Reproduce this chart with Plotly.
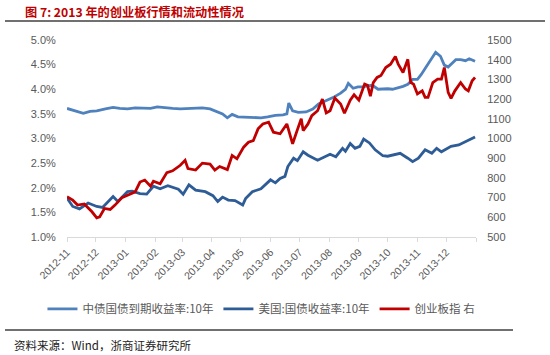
import plotly.graph_objects as go

# ---------------- data ----------------
cn_dates = ["2012-11-01","2012-11-09","2012-11-18","2012-11-25","2012-12-02","2012-12-11","2012-12-19","2012-12-26",
            "2013-01-03","2013-01-11","2013-01-18","2013-01-27","2013-02-03","2013-02-11","2013-02-19","2013-02-27",
            "2013-03-06","2013-03-15","2013-03-22","2013-03-30","2013-04-07","2013-04-12","2013-04-17","2013-04-22",
            "2013-04-28","2013-05-06","2013-05-13","2013-05-22","2013-05-29","2013-06-06","2013-06-14","2013-06-18",
            "2013-06-20","2013-06-24","2013-06-30","2013-07-08","2013-07-15","2013-07-21","2013-07-28","2013-08-05",
            "2013-08-13","2013-08-18","2013-08-21","2013-08-26","2013-08-31","2013-09-05","2013-09-10","2013-09-15",
            "2013-09-21","2013-09-26","2013-10-01","2013-10-06","2013-10-12","2013-10-17","2013-10-22","2013-10-27",
            "2013-11-01","2013-11-05","2013-11-10","2013-11-15","2013-11-20","2013-11-25","2013-11-29","2013-12-03",
            "2013-12-07","2013-12-11","2013-12-16","2013-12-21","2013-12-25","2013-12-29","2013-12-31"]
cn_yield = [3.61,3.57,3.51,3.55,3.56,3.60,3.63,3.61,
            3.60,3.62,3.62,3.61,3.64,3.62,3.61,3.60,
            3.61,3.62,3.62,3.60,3.54,3.50,3.42,3.49,
            3.44,3.43,3.43,3.42,3.44,3.47,3.48,3.50,
            3.72,3.56,3.53,3.54,3.60,3.70,3.76,3.83,
            3.92,4.00,4.12,4.02,4.05,4.05,4.07,4.08,
            4.00,4.01,4.01,4.00,4.03,4.06,4.10,4.20,
            4.20,4.30,4.45,4.60,4.75,4.67,4.49,4.45,
            4.53,4.60,4.60,4.58,4.62,4.58,4.57]

us_dates = ["2012-11-01","2012-11-07","2012-11-14","2012-11-23","2012-12-02","2012-12-08","2012-12-19","2012-12-24",
            "2013-01-03","2013-01-08","2013-01-16","2013-01-23","2013-01-30","2013-02-06","2013-02-14","2013-02-25",
            "2013-03-02","2013-03-08","2013-03-15","2013-03-25","2013-04-02","2013-04-07","2013-04-12","2013-04-18",
            "2013-04-25","2013-05-03","2013-05-06","2013-05-13","2013-05-22","2013-05-27","2013-06-01","2013-06-06",
            "2013-06-11","2013-06-16","2013-06-19","2013-06-25","2013-06-29","2013-07-05","2013-07-10","2013-07-20",
            "2013-07-26","2013-08-02","2013-08-08","2013-08-15","2013-08-18","2013-08-23","2013-08-28","2013-09-02",
            "2013-09-06","2013-09-12","2013-09-18","2013-09-26","2013-10-01","2013-10-06","2013-10-14","2013-10-22",
            "2013-10-27","2013-11-02","2013-11-09","2013-11-16","2013-11-21","2013-11-26","2013-12-06","2013-12-14",
            "2013-12-21","2013-12-28","2013-12-31"]
us_yield = [1.79,1.62,1.57,1.69,1.62,1.60,1.82,1.72,
            1.92,1.93,1.88,1.87,2.03,1.98,2.04,1.97,
            1.87,2.06,1.95,1.92,1.84,1.72,1.81,1.75,
            1.74,1.65,1.78,1.92,1.98,2.07,2.16,2.10,
            2.19,2.23,2.43,2.60,2.55,2.73,2.66,2.56,
            2.62,2.68,2.63,2.80,2.74,2.90,2.80,2.84,
            2.99,2.91,2.77,2.65,2.64,2.66,2.70,2.60,
            2.53,2.60,2.77,2.70,2.80,2.73,2.84,2.87,
            2.94,3.00,3.03]

gem_dates = ["2012-11-01","2012-11-07","2012-11-12","2012-11-19","2012-11-27","2012-12-02","2012-12-05","2012-12-10",
             "2012-12-16","2012-12-21","2012-12-28","2013-01-04","2013-01-11","2013-01-16","2013-01-21","2013-01-27",
             "2013-01-30","2013-02-06","2013-02-13","2013-02-19","2013-02-27","2013-03-04","2013-03-07","2013-03-15",
             "2013-03-22","2013-03-30","2013-04-04","2013-04-09","2013-04-17","2013-04-22","2013-04-27","2013-05-04",
             "2013-05-09","2013-05-14","2013-05-19","2013-05-24","2013-05-30","2013-06-04","2013-06-11","2013-06-18",
             "2013-06-24","2013-06-29","2013-07-03","2013-07-05","2013-07-10","2013-07-14","2013-07-20","2013-07-25",
             "2013-07-29","2013-08-02","2013-08-07","2013-08-13","2013-08-17","2013-08-23","2013-08-27","2013-09-01",
             "2013-09-07","2013-09-10","2013-09-13","2013-09-16","2013-09-20","2013-09-24","2013-09-29","2013-10-04",
             "2013-10-09","2013-10-12","2013-10-17","2013-10-22","2013-10-25","2013-10-28","2013-11-01","2013-11-06",
             "2013-11-09","2013-11-12","2013-11-17","2013-11-22","2013-11-26","2013-11-29","2013-12-03","2013-12-06",
             "2013-12-10","2013-12-16","2013-12-21","2013-12-24","2013-12-28","2013-12-31"]
gem_index = [704,687,662,668,628,597,602,645,
             640,662,699,712,729,779,789,758,
             783,770,827,836,864,889,847,840,
             875,870,840,858,842,914,897,956,
             981,989,1049,1074,1083,1032,1024,1074,
             973,1045,1100,1040,1074,1116,1141,1200,
             1130,1141,1205,1175,1128,1195,1222,1195,
             1276,1270,1215,1284,1310,1320,1360,1377,
             1416,1377,1335,1402,1284,1276,1226,1242,
             1209,1209,1284,1301,1301,1360,1234,1204,
             1242,1284,1251,1242,1293,1310]

month_ticks = ["2012-11-01","2012-12-01","2013-01-01","2013-02-01","2013-03-01","2013-04-01","2013-05-01",
               "2013-06-01","2013-07-01","2013-08-01","2013-09-01","2013-10-01","2013-11-01","2013-12-01","2014-01-01"]
month_labels = ["2012-11","2012-12","2013-01","2013-02","2013-03","2013-04","2013-05",
                "2013-06","2013-07","2013-08","2013-09","2013-10","2013-11","2013-12",""]

names = ["中债国债到期收益率:10年", "美国:国债收益率:10年", "创业板指 右"]
colors = ["#4F81BD", "#2E5C96", "#C00000"]

title_text = "图 7: 2013 年的创业板行情和流动性情况"
source_text = "资料来源：Wind，浙商证券研究所"

# ---------------- figure ----------------
fig = go.Figure()
fig.add_trace(go.Scatter(x=cn_dates, y=cn_yield, name=names[0], mode="lines",
                         line=dict(color=colors[0], width=2.8)))
fig.add_trace(go.Scatter(x=us_dates, y=us_yield, name=names[1], mode="lines",
                         line=dict(color=colors[1], width=2.8)))
fig.add_trace(go.Scatter(x=gem_dates, y=gem_index, name=names[2], mode="lines", yaxis="y2",
                         line=dict(color=colors[2], width=2.8)))

tickfont = dict(family="Liberation Sans, Arial, sans-serif", size=11, color="#595959")

fig.update_layout(
    width=550, height=355,
    margin=dict(l=67, r=74, t=40, b=118),
    paper_bgcolor="white", plot_bgcolor="white",
    showlegend=True,
    legend=dict(orientation="h", x=-0.06, y=-0.365, xanchor="left", yanchor="middle",
                font=dict(family="Noto Sans CJK SC, sans-serif", size=11.5, color="#595959"),
                itemwidth=30, tracegroupgap=0, bgcolor="rgba(0,0,0,0)"),
    xaxis=dict(type="date", range=["2012-11-01", "2014-01-01"],
               tickvals=month_ticks, ticktext=month_labels, tickangle=-45,
               ticks="outside", ticklen=4, tickcolor="#D9D9D9",
               showline=True, linecolor="#D9D9D9", linewidth=1,
               showgrid=False, zeroline=False, tickfont=dict(tickfont, size=10.5),
               automargin=False),
    yaxis=dict(range=[1.0, 5.0], dtick=0.5, tick0=1.0, tickformat=".1f", ticksuffix="%",
               showgrid=False, zeroline=False, showline=False,
               ticks="outside", ticklen=8, tickcolor="rgba(0,0,0,0)",
               tickfont=tickfont, automargin=False),
    yaxis2=dict(range=[500, 1500], dtick=100, tick0=500, overlaying="y", side="right",
                showgrid=False, zeroline=False, showline=False,
                ticks="outside", ticklen=8, tickcolor="rgba(0,0,0,0)",
                tickfont=tickfont, automargin=False),
)

# title, separators and source
fig.add_annotation(text="<b>" + title_text + "</b>", xref="paper", yref="paper",
                   x=(23 - 67) / 409, y=1 + (40 - 12) / 197, xanchor="left", yanchor="middle",
                   showarrow=False,
                   font=dict(family="Noto Sans CJK SC, sans-serif", size=12.2, color="#C00000"))
fig.add_shape(type="line", xref="paper", yref="paper",
              x0=(5 - 67) / 409, x1=(545 - 67) / 409, y0=1 + (40 - 21) / 197, y1=1 + (40 - 21) / 197,
              line=dict(color="#404040", width=1.5))
fig.add_shape(type="line", xref="paper", yref="paper",
              x0=(5 - 67) / 409, x1=(513 - 67) / 409, y0=(237 - 330) / 197, y1=(237 - 330) / 197,
              line=dict(color="#404040", width=1.5))
fig.add_annotation(text=source_text, xref="paper", yref="paper",
                   x=(12 - 67) / 409, y=(237 - 345) / 197, xanchor="left", yanchor="middle",
                   showarrow=False,
                   font=dict(family="Noto Sans CJK SC, sans-serif", size=11.5, color="#222222"))

fig.write_html("out.html", config={"displayModeBar": False},
               post_script="document.body.style.margin='0px';document.body.style.overflow='hidden';")
